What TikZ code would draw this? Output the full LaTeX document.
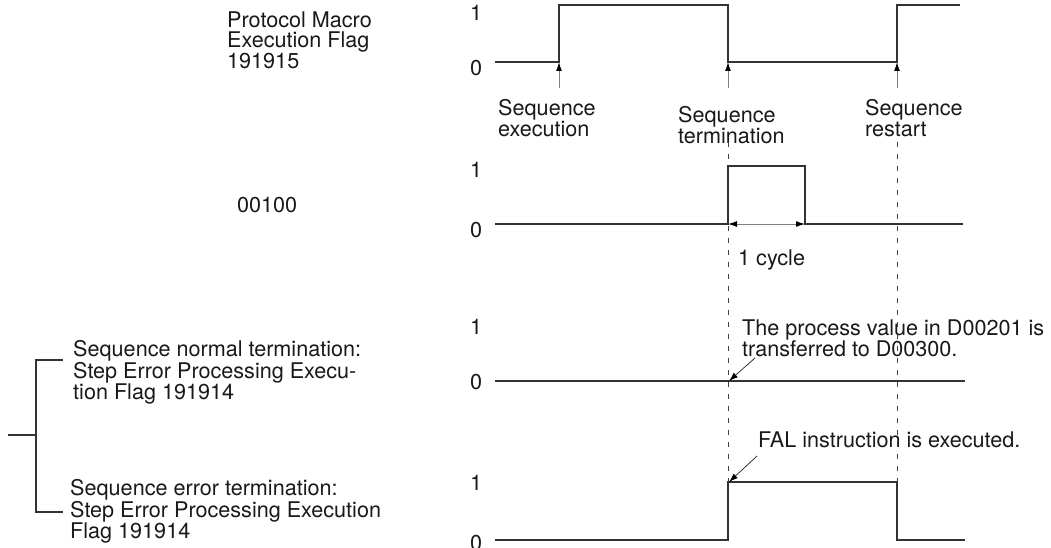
\documentclass[tikz,border=0pt]{standalone}
\usepackage{fontspec}
\setmainfont{TeX Gyre Heros}
\usetikzlibrary{arrows.meta}
\begin{document}
\begin{tikzpicture}[x=1pt,y=-1pt,
  lbl/.style={font=\fontsize{21.6}{20.5}\selectfont, text=black!90, inner sep=0pt, anchor=north west, align=left},
  sig/.style={draw=black!80, line width=1.3pt},
  tipb/.tip={Latex[length=9pt,width=6pt,color=black]},
  ptr/.style={draw=black!50, line width=1pt, -tipb},
  ptrb/.style={draw=black!50, line width=1pt, tipb-tipb},
  note/.style={draw=black!80, line width=0.8pt, -tipb},
  guide/.style={draw=black!75, line width=1pt, dash pattern=on 5pt off 7pt},
]
\useasboundingbox (0,0) rectangle (1051,548);

% left labels
\node[lbl] (pmf) at (227,11.4) {Protocol Macro\\Execution Flag\\191915};
\node[lbl] (out) at (237,197.4) {00100};
\node[lbl] (norm) at (73,340.4) {Sequence normal termination:\\Step Error Processing Execu-\\tion Flag 191914};
\node[lbl] (err) at (70,479.4) {Sequence error termination:\\Step Error Processing Execution\\Flag 191914};

% 1/0 level labels
\node[lbl, anchor=base west] (r1h) at (470,21) {1};
\node[lbl, anchor=base west] (r1l) at (470,76) {0};
\node[lbl, anchor=base west] (r2h) at (470,178) {1};
\node[lbl, anchor=base west] (r2l) at (470,237) {0};
\node[lbl, anchor=base west] (r3h) at (470,334) {1};
\node[lbl, anchor=base west] (r3l) at (470,389) {0};
\node[lbl, anchor=base west] (r4h) at (470,490) {1};
\node[lbl, anchor=base west] (r4l) at (470,550) {0};

% event labels
\node[lbl] (sexe) at (498,99.4) {Sequence\\execution};
\node[lbl] (sterm) at (678,106.4) {Sequence\\termination};
\node[lbl] (srest) at (865,99.4) {Sequence\\restart};
\node[lbl] (cyc) at (738,249.4) {1 cycle};
\node[lbl] (pv) at (742,319.4) {The process value in D00201 is\\transferred to D00300.};
\node[lbl] (fal) at (758,431.4) {FAL instruction is executed.};

% guide lines
\coordinate (g1t) at (728,142); \coordinate (g1b) at (728,482);
\coordinate (g2t) at (897,142); \coordinate (g2b) at (897,482);
\draw[guide] (g1t) -- (g1b);
\draw[guide] (g2t) -- (g2b);

% row 1
\draw[sig] (495,62) -| (559,5) -| (728,62) -| (897,5) -- (960,5);
\coordinate (e1) at (559,62); \coordinate (e2) at (728,62); \coordinate (e3) at (897,62);
\coordinate (a1) at (559,88); \coordinate (a2) at (728,88); \coordinate (a3) at (897,88);
\draw[ptr] (a1) -- (e1);
\draw[ptr] (a2) -- (e2);
\draw[ptr] (a3) -- (e3);

% row 2
\draw[sig] (495,224) -| (728,166) -| (805,224) -- (963,224);
\coordinate (c1) at (728,224); \coordinate (c2) at (805,224);
\draw[ptrb] (c1) -- (c2);

% row 3
\draw[sig] (495,381) -- (965,381);
\coordinate (t3) at (729,381); \coordinate (n3) at (755,358);
\draw[note] (n3) -- (t3);

% row 4
\draw[sig] (495,540) -| (728,482) -| (897,540) -- (965,540);
\coordinate (t4) at (729,482); \coordinate (n4) at (757,456);
\draw[note] (n4) -- (t4);

% bracket
\draw[sig] (63,360) -- (36,360) -- (36,512) -- (63,512);
\draw[sig] (8,435) -- (36,435);
\end{tikzpicture}
\end{document}
